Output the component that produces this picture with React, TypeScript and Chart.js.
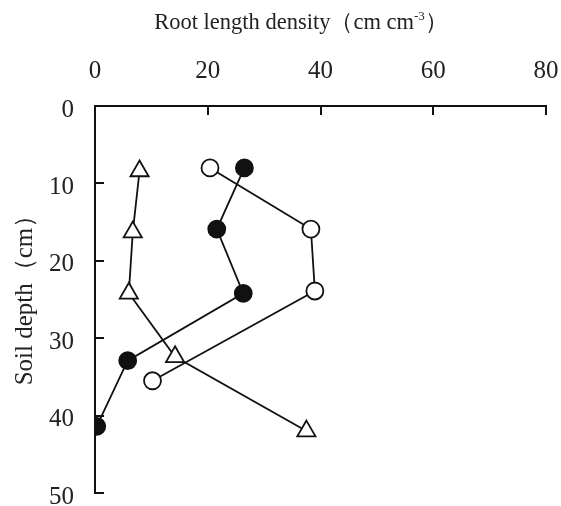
import React, { useEffect, useRef } from "react";
import { Chart, registerables } from "chart.js";

Chart.register(...registerables);

// ---- data ----
const xTickValues = [0, 20, 40, 60, 80];
const yTickValues = [0, 10, 20, 30, 40, 50];

const filledX = [26.5, 21.6, 26.3, 5.8, 0.3];
const filledDepth = [8.0, 15.9, 24.2, 32.9, 41.4];

const openX = [20.4, 38.3, 39.0, 10.2];
const openDepth = [8.0, 15.9, 23.9, 35.5];

const triX = [7.9, 6.7, 6.0, 14.2, 37.5];
const triDepth = [8.4, 16.3, 24.2, 32.4, 42.0];

const xTitleMain = "Root length density（cm cm";
const xTitleSup = "-3";
const xTitleEnd = "）";
const yTitle = "Soil depth（cm）";

const FONT = "'Liberation Serif', 'DejaVu Serif', serif";

const toPoints = (xs: number[], ys: number[]) => xs.map((v, i) => ({ x: v, y: ys[i] }));

const decor = {
  id: "decor",
  afterDraw(chart: any) {
    const { ctx } = chart;
    const xs = chart.scales.x;
    const ys = chart.scales.y;
    const top = ys.getPixelForValue(0);
    const left = xs.getPixelForValue(0);
    ctx.save();
    ctx.strokeStyle = "#111";
    ctx.lineWidth = 2;
    ctx.beginPath();
    xTickValues.slice(1).forEach((v) => {
      const px = Math.round(xs.getPixelForValue(v));
      ctx.moveTo(px, top);
      ctx.lineTo(px, top + 9);
    });
    yTickValues.slice(1).forEach((v) => {
      const py = Math.round(ys.getPixelForValue(v));
      ctx.moveTo(left, py);
      ctx.lineTo(left + 9, py);
    });
    ctx.stroke();

    // x title with superscript
    ctx.fillStyle = "#222";
    ctx.textBaseline = "alphabetic";
    const big = `22.5px ${FONT}`;
    const small = `13px ${FONT}`;
    ctx.font = big;
    const w1 = ctx.measureText(xTitleMain).width;
    const w3 = ctx.measureText(xTitleEnd).width;
    ctx.font = small;
    const w2 = ctx.measureText(xTitleSup).width;
    const total = w1 + w2 + w3;
    let cx = 301 - total / 2;
    const base = 29;
    ctx.font = big;
    ctx.fillText(xTitleMain, cx, base);
    cx += w1;
    ctx.font = small;
    ctx.fillText(xTitleSup, cx, base - 9);
    cx += w2;
    ctx.font = big;
    ctx.fillText(xTitleEnd, cx, base);

    // y title
    ctx.save();
    ctx.translate(25, 294);
    ctx.rotate(-Math.PI / 2);
    ctx.font = `25px ${FONT}`;
    ctx.textAlign = "center";
    ctx.textBaseline = "middle";
    ctx.fillText(yTitle, 0, 0);
    ctx.restore();
    ctx.restore();
  },
};

export default function App() {
  const ref = useRef<HTMLCanvasElement | null>(null);
  useEffect(() => {
    document.body.style.margin = "0";
    const canvas = ref.current;
    if (!canvas) return;
    const common = {
      showLine: true,
      borderColor: "#111",
      borderWidth: 1.8,
      pointBorderColor: "#111",
      pointBorderWidth: 1.8,
    };
    const chart = new Chart(canvas, {
      type: "scatter",
      data: {
        datasets: [
          {
            ...common,
            label: "filled",
            data: toPoints(filledX, filledDepth),
            pointStyle: "circle",
            pointRadius: 8.5,
            pointBackgroundColor: "#111",
          },
          {
            ...common,
            label: "open",
            data: toPoints(openX, openDepth),
            pointStyle: "circle",
            pointRadius: 8.5,
            pointBackgroundColor: "#fff",
          },
          {
            ...common,
            label: "triangle",
            data: toPoints(triX, triDepth),
            pointStyle: "triangle",
            pointRadius: 10.5,
            pointBackgroundColor: "#fff",
          },
        ] as any,
      },
      options: {
        responsive: false,
        animation: false,
        layout: { padding: { top: 0, left: 0, right: 15, bottom: 13 } },
        plugins: { legend: { display: false }, tooltip: { enabled: false } },
        scales: {
          x: {
            type: "linear",
            position: "top",
            min: 0,
            max: 80,
            afterBuildTicks: (s: any) => {
              s.ticks = xTickValues.map((v) => ({ value: v }));
            },
            ticks: {
              font: { family: FONT, size: 25 },
              color: "#222",
              padding: 20,
            },
            grid: { display: false, drawTicks: false },
            border: { display: true, color: "#111", width: 2 },
            afterFit: (s: any) => {
              s.height = 106;
              s.paddingLeft = 0;
              s.paddingRight = 0;
            },
          },
          y: {
            type: "linear",
            reverse: true,
            min: 0,
            max: 50,
            afterBuildTicks: (s: any) => {
              s.ticks = yTickValues.map((v) => ({ value: v }));
            },
            ticks: {
              font: { family: FONT, size: 25, lineHeight: "8px" },
              color: "#222",
              padding: 21,
              callback: (v: any) => ["", String(v)],
            },
            grid: { display: false, drawTicks: false },
            border: { display: true, color: "#111", width: 2 },
            afterFit: (s: any) => {
              s.width = 95;
              s.paddingTop = 0;
              s.paddingBottom = 0;
            },
          },
        },
      } as any,
      plugins: [decor],
    });
    return () => chart.destroy();
  }, []);
  return <canvas ref={ref} width={561} height={506} style={{ display: "block" }} />;
}
